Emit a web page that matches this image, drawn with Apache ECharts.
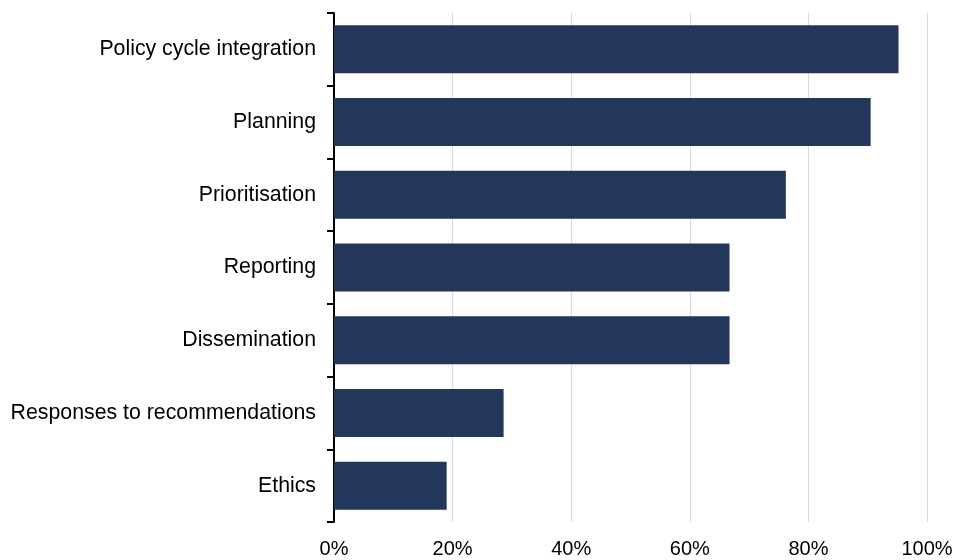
<!DOCTYPE html>
<html>
<head>
<meta charset="utf-8">
<script src="https://cdn.jsdelivr.net/npm/echarts@6/dist/echarts.min.js"></script>
<style>
  html, body { margin: 0; padding: 0; background: #fff; }
  #chart { width: 959px; height: 560px; }
</style>
</head>
<body>
<div id="chart"></div>
<script>
  // categories, top to bottom as shown
  var categories = ['Policy cycle integration', 'Planning', 'Prioritisation', 'Reporting',
    'Dissemination', 'Responses to recommendations', 'Ethics'];
  // share of respondents (%)
  var shares = [95.2, 90.5, 76.2, 66.7, 66.7, 28.6, 19.0];
  var xTicks = [0, 20, 40, 60, 80, 100];

  var chart = echarts.init(document.getElementById('chart'));
  chart.setOption({
    animation: false,
    grid: { left: 334, right: 32, top: 13, bottom: 38, containLabel: false },
    xAxis: {
      type: 'value',
      min: xTicks[0],
      max: xTicks[xTicks.length - 1],
      interval: 20,
      axisLine: { show: false },
      axisTick: { show: false },
      splitLine: { show: true, lineStyle: { color: '#d9d9d9', width: 1 } },
      axisLabel: {
        formatter: '{value}%',
        color: '#000',
        fontFamily: 'Liberation Sans, Arial',
        fontSize: 20,
        margin: 17
      }
    },
    yAxis: {
      type: 'category',
      inverse: true,
      data: categories,
      axisLine: { show: true, lineStyle: { color: '#000', width: 2 } },
      axisTick: { show: true, length: 7, lineStyle: { color: '#000', width: 2 } },
      axisLabel: {
        color: '#000',
        fontFamily: 'Liberation Sans, Arial',
        fontSize: 21.3,
        margin: 18
      }
    },
    series: [{
      type: 'bar',
      data: shares,
      barWidth: '66%',
      itemStyle: { color: '#22375a' }
    }]
  });
</script>
</body>
</html>
